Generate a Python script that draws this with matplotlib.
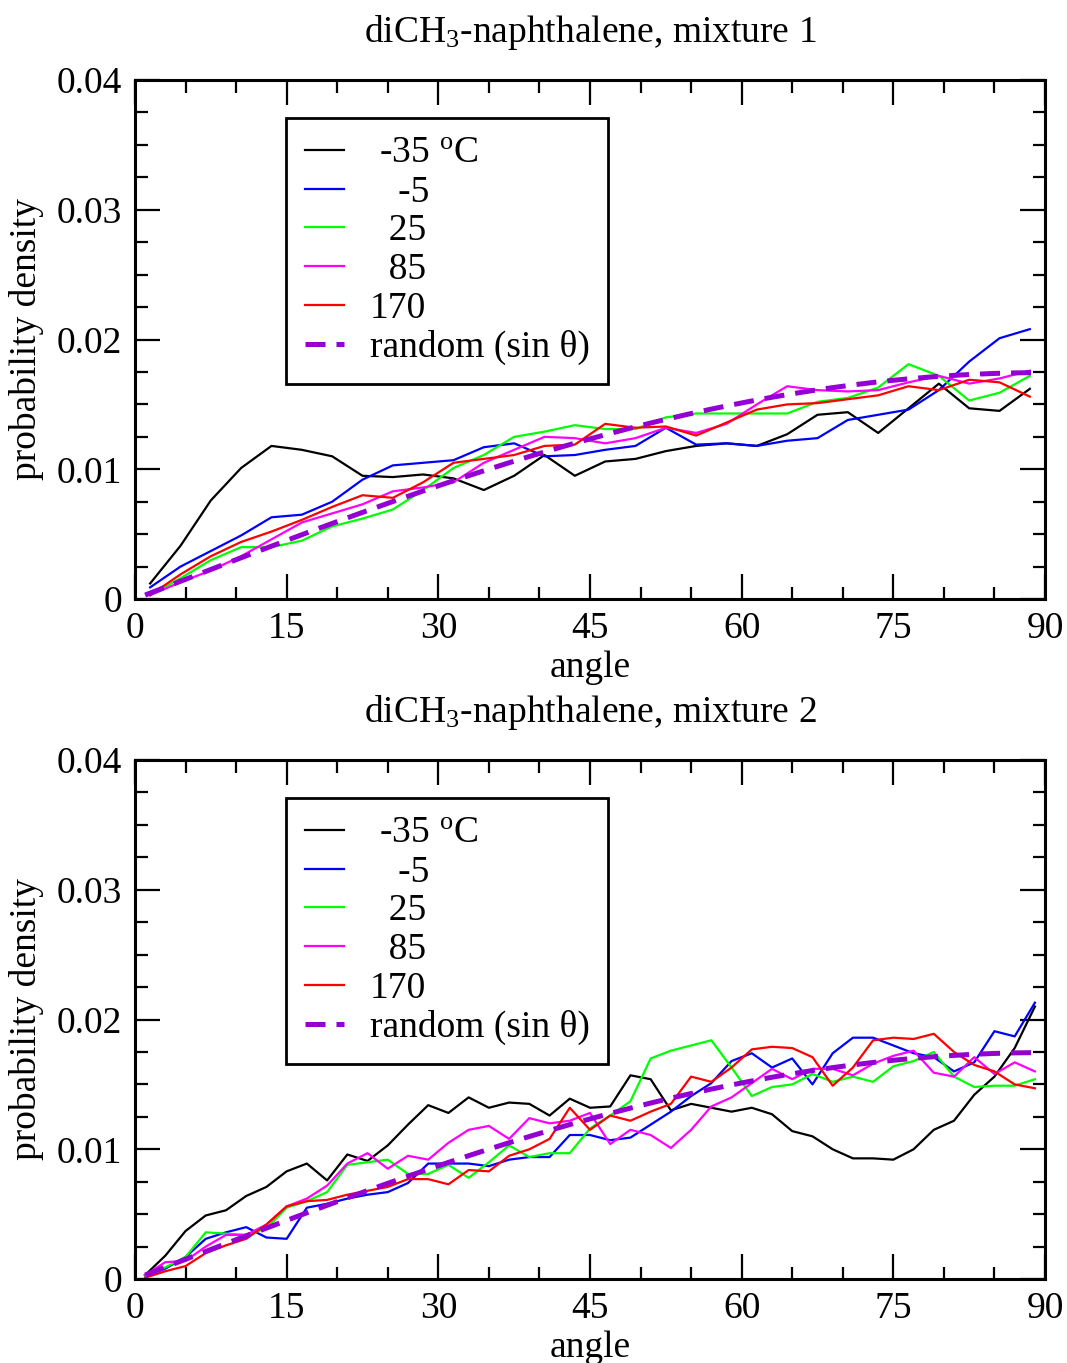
import matplotlib
matplotlib.use("Agg")
import matplotlib.pyplot as plt
from matplotlib.ticker import MultipleLocator, FuncFormatter

plt.rcParams['font.family'] = ['Liberation Serif', 'DejaVu Serif']
plt.rcParams['mathtext.fontset'] = 'custom'
plt.rcParams['mathtext.rm'] = 'Liberation Serif'
plt.rcParams['mathtext.it'] = 'Liberation Serif:italic'

# ---------------- data ----------------
x_mix1 = [1.5, 4.5, 7.5, 10.5, 13.5, 16.5, 19.5, 22.5, 25.5, 28.5, 31.5, 34.5, 37.5, 40.5, 43.5,
          46.5, 49.5, 52.5, 55.5, 58.5, 61.5, 64.5, 67.5, 70.5, 73.5, 76.5, 79.5, 82.5, 85.5, 88.5]
x_mix2 = [1, 3, 5, 7, 9, 11, 13, 15, 17, 19, 21, 23, 25, 27, 29, 31, 33, 35, 37, 39, 41, 43, 45,
          47, 49, 51, 53, 55, 57, 59, 61, 63, 65, 67, 69, 71, 73, 75, 77, 79, 81, 83, 85, 87, 89]

m1_m35 = [0.0012, 0.0041, 0.0076, 0.0101, 0.0118, 0.0115, 0.0110, 0.0095, 0.0094, 0.0096, 0.0093, 0.0084,
          0.0095, 0.0111, 0.0095, 0.0106, 0.0108, 0.0114, 0.0118, 0.0120, 0.0118, 0.0127, 0.0142, 0.0144,
          0.0128, 0.0147, 0.0166, 0.0147, 0.0145, 0.0162]
m1_m5 = [0.0009, 0.0025, 0.0037, 0.0049, 0.0063, 0.0065, 0.0075, 0.0092, 0.0103, 0.0105, 0.0107, 0.0117,
         0.0120, 0.0110, 0.0111, 0.0115, 0.0118, 0.0132, 0.0119, 0.0120, 0.0118, 0.0122, 0.0124, 0.0138,
         0.0142, 0.0146, 0.0161, 0.0183, 0.0201, 0.0208]
m1_25 = [0.0003, 0.0016, 0.0030, 0.0040, 0.0040, 0.0045, 0.0056, 0.0062, 0.0069, 0.0084, 0.0101, 0.0111,
         0.0125, 0.0129, 0.0134, 0.0131, 0.0131, 0.0140, 0.0143, 0.0143, 0.0143, 0.0143, 0.0152, 0.0155,
         0.0163, 0.0181, 0.0172, 0.0153, 0.0159, 0.0172]
m1_85 = [0.0003, 0.0013, 0.0022, 0.0033, 0.0046, 0.0059, 0.0066, 0.0073, 0.0083, 0.0086, 0.0090, 0.0105,
         0.0115, 0.0125, 0.0124, 0.0120, 0.0124, 0.0132, 0.0128, 0.0135, 0.0150, 0.0164, 0.0161, 0.0160,
         0.0161, 0.0167, 0.0172, 0.0166, 0.0170, 0.0176]
m1_170 = [0.0003, 0.0019, 0.0033, 0.0044, 0.0052, 0.0061, 0.0071, 0.0080, 0.0078, 0.0090, 0.0105, 0.0108,
          0.0111, 0.0118, 0.0119, 0.0135, 0.0132, 0.0133, 0.0126, 0.0136, 0.0146, 0.0150, 0.0151, 0.0154,
          0.0157, 0.0164, 0.0161, 0.0169, 0.0167, 0.0156]

m2_m35 = [0.0003, 0.0018, 0.0037, 0.0049, 0.0053, 0.0064, 0.0071, 0.0083, 0.0089, 0.0076, 0.0096, 0.0091,
          0.0103, 0.0119, 0.0134, 0.0128, 0.0140, 0.0132, 0.0136, 0.0135, 0.0126, 0.0139, 0.0132, 0.0133,
          0.0157, 0.0154, 0.0130, 0.0135, 0.0132, 0.0129, 0.0132, 0.0127, 0.0114, 0.0110, 0.0100, 0.0093,
          0.0093, 0.0092, 0.0100, 0.0115, 0.0122, 0.0142, 0.0156, 0.0178, 0.0210]
m2_m5 = [0.0003, 0.0008, 0.0017, 0.0031, 0.0036, 0.0040, 0.0032, 0.0031, 0.0055, 0.0058, 0.0062, 0.0065,
         0.0067, 0.0074, 0.0089, 0.0089, 0.0089, 0.0087, 0.0092, 0.0094, 0.0094, 0.0111, 0.0111, 0.0107,
         0.0109, 0.0119, 0.0129, 0.0141, 0.0151, 0.0168, 0.0174, 0.0163, 0.0170, 0.0150, 0.0174, 0.0186,
         0.0186, 0.0180, 0.0174, 0.0171, 0.0160, 0.0167, 0.0191, 0.0187, 0.0213]
m2_25 = [0.0003, 0.0009, 0.0017, 0.0036, 0.0035, 0.0034, 0.0039, 0.0055, 0.0060, 0.0067, 0.0088, 0.0090,
         0.0092, 0.0081, 0.0081, 0.0088, 0.0078, 0.0090, 0.0103, 0.0094, 0.0097, 0.0097, 0.0116, 0.0126,
         0.0137, 0.0170, 0.0176, 0.0180, 0.0184, 0.0163, 0.0141, 0.0148, 0.0150, 0.0158, 0.0152, 0.0156,
         0.0152, 0.0164, 0.0168, 0.0175, 0.0156, 0.0148, 0.0149, 0.0149, 0.0154]
m2_85 = [0.0003, 0.0013, 0.0014, 0.0025, 0.0034, 0.0034, 0.0042, 0.0056, 0.0062, 0.0072, 0.0089, 0.0097,
         0.0085, 0.0095, 0.0092, 0.0105, 0.0115, 0.0118, 0.0108, 0.0124, 0.0120, 0.0122, 0.0128, 0.0104,
         0.0115, 0.0111, 0.0101, 0.0115, 0.0133, 0.0140, 0.0151, 0.0162, 0.0154, 0.0162, 0.0162, 0.0157,
         0.0166, 0.0172, 0.0176, 0.0159, 0.0156, 0.0171, 0.0158, 0.0167, 0.0160]
m2_170 = [0.0001, 0.0006, 0.0010, 0.0020, 0.0026, 0.0031, 0.0042, 0.0056, 0.0060, 0.0061, 0.0065, 0.0068,
          0.0071, 0.0077, 0.0077, 0.0073, 0.0084, 0.0083, 0.0095, 0.0100, 0.0108, 0.0132, 0.0115, 0.0126,
          0.0122, 0.0129, 0.0135, 0.0156, 0.0152, 0.0163, 0.0177, 0.0179, 0.0178, 0.0171, 0.0149, 0.0163,
          0.0184, 0.0186, 0.0185, 0.0189, 0.0175, 0.0165, 0.0160, 0.0150, 0.0147]

random_sin = [0.000305, 0.000913, 0.001521, 0.002127, 0.002730, 0.003330, 0.003926, 0.004517, 0.005103,
              0.005682, 0.006255, 0.006820, 0.007376, 0.007924, 0.008461, 0.008989, 0.009506, 0.010011,
              0.010504, 0.010984, 0.011450, 0.011903, 0.012341, 0.012765, 0.013172, 0.013564, 0.013939,
              0.014297, 0.014638, 0.014960, 0.015265, 0.015551, 0.015818, 0.016066, 0.016294, 0.016502,
              0.016691, 0.016859, 0.017006, 0.017133, 0.017238, 0.017323, 0.017387, 0.017429, 0.017451]

labels = [" -35 $^{\\mathrm{o}}$C", "   -5", "  25", "  85", "170", "random (sin θ)"]
colors = ["#000000", "#0000ff", "#00ff00", "#ff00ff", "#ff0000"]
random_color = "#9400d3"
titles = ["diCH$_3$-naphthalene, mixture 1", "diCH$_3$-naphthalene, mixture 2"]
xticks = [0, 15, 30, 45, 60, 75, 90]
yticks = [0, 0.01, 0.02, 0.03, 0.04]

panels = [
    (x_mix1, [m1_m35, m1_m5, m1_25, m1_85, m1_170]),
    (x_mix2, [m2_m35, m2_m5, m2_25, m2_85, m2_170]),
]

FS = 27
fig = plt.figure(figsize=(10.67, 13.63), dpi=100)
rects = [[0.1265, 0.5605, 0.8529, 0.3808], [0.1265, 0.0616, 0.8529, 0.3808]]

for rect, (xs, series), title in zip(rects, panels, titles):
    ax = fig.add_axes(rect)
    for ys, c, lab in zip(series, colors, labels[:5]):
        ax.plot(xs, ys, color=c, lw=1.6, label=lab)
    ax.plot(x_mix2, random_sin, color=random_color, lw=3.6, linestyle=(0, (4.0, 2.2)),
            label=labels[5])
    ax.set_xlim(0, 90)
    ax.set_ylim(0, 0.04)
    ax.set_xticks(xticks)
    ax.set_yticks(yticks)
    ax.xaxis.set_minor_locator(MultipleLocator(5))
    ax.yaxis.set_minor_locator(MultipleLocator(0.0025))
    ax.yaxis.set_major_formatter(FuncFormatter(lambda v, p: "0" if v == 0 else f"{v:.2f}"))
    ax.tick_params(which='both', direction='in', top=True, right=True, labelsize=FS, width=1.6)
    ax.tick_params(which='major', length=18, pad=9)
    ax.tick_params(which='minor', length=9)
    for s in ax.spines.values():
        s.set_linewidth(2.2)
    ax.set_xlabel("angle", fontsize=FS)
    ax.xaxis.set_label_coords(0.5, -0.10)
    ax.set_ylabel("probability density", fontsize=FS)
    ax.yaxis.set_label_coords(-0.100, 0.5)
    ax.text(0.5, 1.074, title, transform=ax.transAxes, ha='center', va='baseline', fontsize=FS)
    leg = ax.legend(loc='upper left', bbox_to_anchor=(0.166, 0.927), fontsize=FS, frameon=True,
                    fancybox=False, handlelength=1.05, handletextpad=0.68, labelspacing=0.11,
                    borderpad=0.5, borderaxespad=0)
    leg.get_frame().set_edgecolor('black')
    leg.get_frame().set_linewidth(2.0)
    leg.get_frame().set_alpha(None)

fig.savefig("out.png", dpi=100)
